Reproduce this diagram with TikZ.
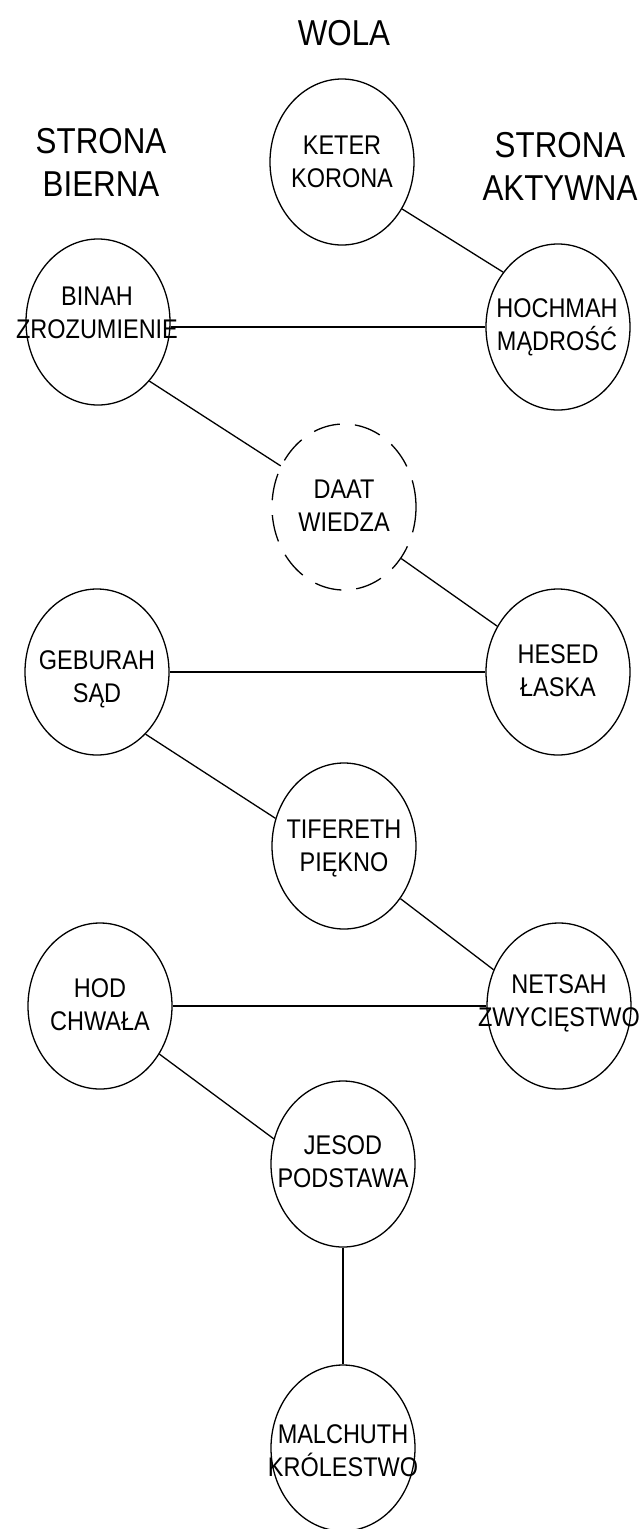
\documentclass[tikz,border=0pt]{standalone}
\usepackage{fontspec}
\setmainfont{Liberation Sans}[FakeStretch=0.87]
\usetikzlibrary{shapes.geometric}
\begin{document}
\begin{tikzpicture}[x=1pt,y=-1pt,
  sefira/.style={draw, ellipse, line width=1.3pt, minimum width=144pt, minimum height=166pt, inner sep=0pt},
  hidden/.style={dash pattern=on 27pt off 15pt},
  lbl/.style={align=center, font=\fontsize{27}{33}\selectfont, inner sep=0pt},
  head/.style={align=center, font=\fontsize{36}{43}\selectfont, inner sep=0pt},
  link/.style={line width=1.3pt}]
\useasboundingbox (0,0) rectangle (644,1529);

% headings
\node[head, anchor=base] (wola) at (344,45) {WOLA};
\node[head] (bierna) at (101,162.5) {STRONA\\BIERNA};
\node[head] (aktywna) at (560,166.5) {STRONA\\AKTYWNA};

% sefirot
\node[sefira] (keter) at (342,162) {};
\node[sefira] (binah) at (98,322) {};
\node[sefira] (hochmah) at (558,327) {};
\node[sefira, hidden] (daat) at (344,507) {};
\node[sefira] (geburah) at (97,672) {};
\node[sefira] (hesed) at (558,672) {};
\node[sefira] (tifereth) at (344,846) {};
\node[sefira] (hod) at (100,1006) {};
\node[sefira] (netsah) at (559,1006) {};
\node[sefira] (jesod) at (343,1164) {};
\node[sefira] (malchuth) at (343,1448) {};

% labels
\node[lbl] (keterT) at (342,162) {KETER\\KORONA};
\node[lbl] (binahT) at (97,313) {BINAH\\ZROZUMIENIE};
\node[lbl] (hochmahT) at (557,327) {HOCHMAH\\MĄDROŚĆ};
\node[lbl] (daatT) at (344,506) {DAAT\\WIEDZA};
\node[lbl] (geburahT) at (97,679) {GEBURAH\\SĄD};
\node[lbl] (hesedT) at (558,671) {HESED\\ŁASKA};
\node[lbl] (tiferethT) at (344,849) {TIFERETH\\PIĘKNO};
\node[lbl] (hodT) at (100,1005) {HOD\\CHWAŁA};
\node[lbl] (netsahT) at (559,1003) {NETSAH\\ZWYCIĘSTWO};
\node[lbl] (jesodT) at (343,1162) {JESOD\\PODSTAWA};
\node[lbl] (malchuthT) at (343,1451) {MALCHUTH\\KRÓLESTWO};

% connectors
\draw[link] (keter.-38) -- (hochmah.135.5);
\draw[link] (binah.east |- hochmah.west) -- (hochmah.west);
\draw[link] (binah.-49) -- (daat.147.5);
\draw[link] (daat.-42) -- (hesed.143.4);
\draw[link] (geburah.east) -- (hesed.west);
\draw[link] (geburah.-52.6) -- (tifereth.158.7);
\draw[link] (tifereth.-43.5) -- (netsah.151.2);
\draw[link] (hod.east) -- (netsah.west);
\draw[link] (hod.-39.5) -- (jesod.160.3);
\draw[link] (jesod.south) -- (malchuth.north);
\end{tikzpicture}
\end{document}
